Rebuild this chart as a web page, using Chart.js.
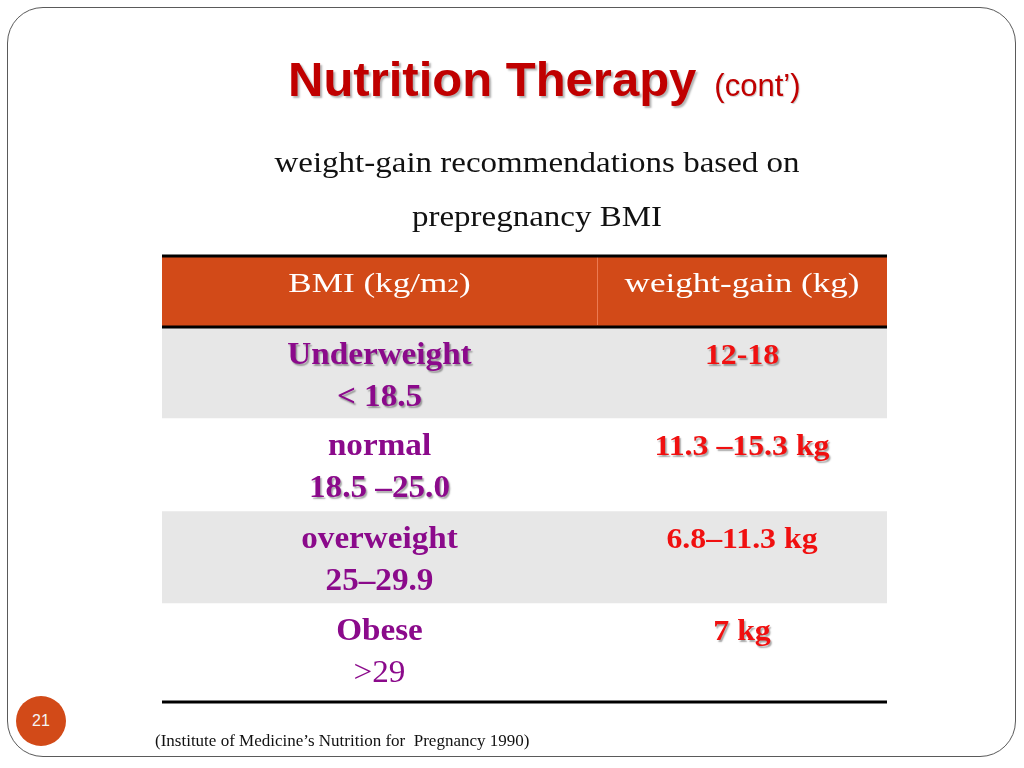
<!DOCTYPE html>
<html>
<head>
<meta charset="utf-8">
<title>Nutrition Therapy (cont')</title>
<script src="https://cdn.jsdelivr.net/npm/chart.js@4/dist/chart.umd.min.js"></script>
<style>
  html, body { margin: 0; padding: 0; background: #fff; }
  #slide { position: relative; width: 1024px; height: 768px; overflow: hidden; }
  #frame {
    position: absolute; left: 7px; top: 7px; width: 1009px; height: 750px;
    border: 1px solid #5a5a5a; border-radius: 36px; box-sizing: border-box;
  }
  #chartBox { position: absolute; left: 0; top: 0; width: 1024px; height: 768px; }
  .txt { position: absolute; white-space: pre; }
  #title {
    left: 288px; top: 51px; font-family: "Liberation Sans", Arial, sans-serif;
    font-weight: bold; font-size: 49px; color: #c00000; line-height: 1.15;
    text-shadow: 2px 2px 2px rgba(0, 0, 0, 0.3);
  }
  #title small { font-size: 31px; font-weight: normal; margin-left: 18px; text-shadow: 1px 1px 1px rgba(0,0,0,0.2); }
  .sub {
    left: 237px; width: 600px; text-align: center; font-family: "Liberation Serif", "Times New Roman", serif;
    font-size: 30px; color: #111; line-height: 1.15; transform: scaleX(1.1);
  }
  #foot {
    left: 155px; top: 731px; font-family: "Liberation Serif", "Times New Roman", serif;
    font-size: 17px; color: #111; line-height: 1.15;
  }
  #pageNo {
    position: absolute; left: 16px; top: 696px; width: 50px; height: 50px; border-radius: 50%;
    background: #d24a18; color: #f4f4f4; font-family: "Liberation Sans", Arial, sans-serif;
    font-size: 16px; line-height: 50px; text-align: center;
  }
</style>
</head>
<body>
<div id="slide">
  <div id="frame"></div>
  <div id="chartBox"><canvas id="tabela"></canvas></div>
  <div class="txt" id="title">Nutrition Therapy<small>(cont’)</small></div>
  <div class="txt sub" style="top:145px">weight-gain recommendations based on</div>
  <div class="txt sub" style="top:199px">prepregnancy BMI</div>
  <div class="txt" id="foot">(Institute of Medicine’s Nutrition for  Pregnancy 1990)</div>
  <div id="pageNo">21</div>
</div>
<script>
// dados da tabela
const headerLabels = ["BMI (kg/m2)", "weight-gain (kg)"];
const bmiNames = ["Underweight", "normal", "overweight", "Obese"];
const bmiRanges = ["< 18.5", "18.5 –25.0", "25–29.9", ">29"];
const gainRanges = ["12-18", "11.3 –15.3 kg", "6.8–11.3 kg", "7 kg"];
// altura relativa de cada linha (cabeçalho + 4 linhas)
const rowSpans = [72, 91, 93, 92, 99];
const rowFills = ["#d24a18", "#e7e7e7", "#ffffff", "#e7e7e7", "#ffffff"];
// divisão das colunas (fração da largura)
const colEdges = [0, 0.6, 1];

const purple = "#8b0a8b";
const red = "#f01010";

const datasets = rowSpans.map((span, i) => ({
    label: i === 0 ? "header" : bmiNames[i - 1],
    data: [span],
    backgroundColor: rowFills[i],
    borderWidth: 0,
    barPercentage: 1,
    categoryPercentage: 1,
}));

function drawText(ctx, text, x, y, font, color, stretch, shadow) {
    ctx.save();
    ctx.font = font;
    ctx.fillStyle = color;
    if (shadow) {
        ctx.shadowColor = "rgba(0,0,0,0.35)";
        ctx.shadowOffsetX = 1.5;
        ctx.shadowOffsetY = 1.5;
        ctx.shadowBlur = 1.5;
    }
    ctx.translate(x, y);
    ctx.scale(stretch, 1);
    ctx.textAlign = "center";
    ctx.textBaseline = "alphabetic";
    ctx.fillText(text, 0, 0);
    ctx.restore();
}

// cabeçalho com o "2" menor
function drawHeader(ctx, text, x, y) {
    const big = "27px 'Liberation Serif', serif";
    const small = "18px 'Liberation Serif', serif";
    const stretch = 1.3;
    const m = text.match(/^(.*m)(2)(\).*)$/);
    const parts = m ? [[m[1], big], [m[2], small], [m[3], big]] : [[text, big]];
    ctx.save();
    let total = 0;
    parts.forEach((p) => { ctx.font = p[1]; total += ctx.measureText(p[0]).width; });
    ctx.translate(x, y);
    ctx.scale(stretch, 1);
    ctx.fillStyle = "#ffffff";
    ctx.textBaseline = "alphabetic";
    ctx.textAlign = "left";
    let cx = -total / 2;
    parts.forEach((p) => {
        ctx.font = p[1];
        ctx.fillText(p[0], cx, 0);
        cx += ctx.measureText(p[0]).width;
    });
    ctx.restore();
}

const tablePlugin = {
    id: "tablePlugin",
    afterDatasetsDraw(chart) {
        const ctx = chart.ctx;
        const y = chart.scales.y;
        const col = chart.scales.col;
        const left = col.getPixelForValue(colEdges[0]);
        const right = col.getPixelForValue(colEdges[2]);
        const bounds = [0];
        rowSpans.forEach((s) => bounds.push(bounds[bounds.length - 1] + s));
        const yb = bounds.map((b) => y.getPixelForValue(b));

        // divisória do cabeçalho
        ctx.save();
        ctx.strokeStyle = "#ec7a52";
        ctx.lineWidth = 1;
        const xd = Math.round(col.getPixelForValue(colEdges[1])) + 0.5;
        ctx.beginPath();
        ctx.moveTo(xd, yb[0] + 2);
        ctx.lineTo(xd, yb[1] - 2);
        ctx.stroke();

        // linhas pretas
        ctx.strokeStyle = "#000";
        ctx.lineWidth = 3;
        [yb[0] + 1, yb[1], yb[yb.length - 1]].forEach((py) => {
            ctx.beginPath();
            ctx.moveTo(left, py);
            ctx.lineTo(right, py);
            ctx.stroke();
        });
        ctx.restore();

        const c1 = col.getPixelForValue((colEdges[0] + colEdges[1]) / 2);
        const c2 = col.getPixelForValue((colEdges[1] + colEdges[2]) / 2);

        drawHeader(ctx, headerLabels[0], c1, yb[0] + 37);
        drawHeader(ctx, headerLabels[1], c2, yb[0] + 37);

        const nameFont = "bold 31px 'Liberation Serif', serif";
        const plainFont = "31px 'Liberation Serif', serif";
        const gainFont = "bold 30px 'Liberation Serif', serif";
        bmiNames.forEach((name, i) => {
            const top = yb[i + 1];
            drawText(ctx, name, c1, top + 37, nameFont, purple, 1.07, i === 0);
            const rf = i === 3 ? plainFont : nameFont;
            drawText(ctx, bmiRanges[i], c1, top + 79, rf, purple, 1.07, i < 2);
            drawText(ctx, gainRanges[i], c2, top + 37, gainFont, red, 1.06, i !== 2);
        });
    },
};

new Chart(document.getElementById("tabela"), {
    type: "bar",
    data: { labels: [""], datasets: datasets },
    options: {
        responsive: true,
        maintainAspectRatio: false,
        animation: false,
        events: [],
        layout: { padding: { left: 162, right: 137, top: 255, bottom: 66 } },
        scales: {
            x: { stacked: true, display: false, grid: { display: false } },
            y: {
                stacked: true,
                display: false,
                reverse: true,
                min: 0,
                max: rowSpans.reduce((a, b) => a + b, 0),
            },
            col: {
                type: "linear",
                axis: "x",
                position: "bottom",
                display: false,
                offset: false,
                grid: { offset: false },
                min: 0,
                max: 1,
            },
        },
        plugins: { legend: { display: false }, tooltip: { enabled: false }, title: { display: false } },
    },
    plugins: [tablePlugin],
});
</script>
</body>
</html>
